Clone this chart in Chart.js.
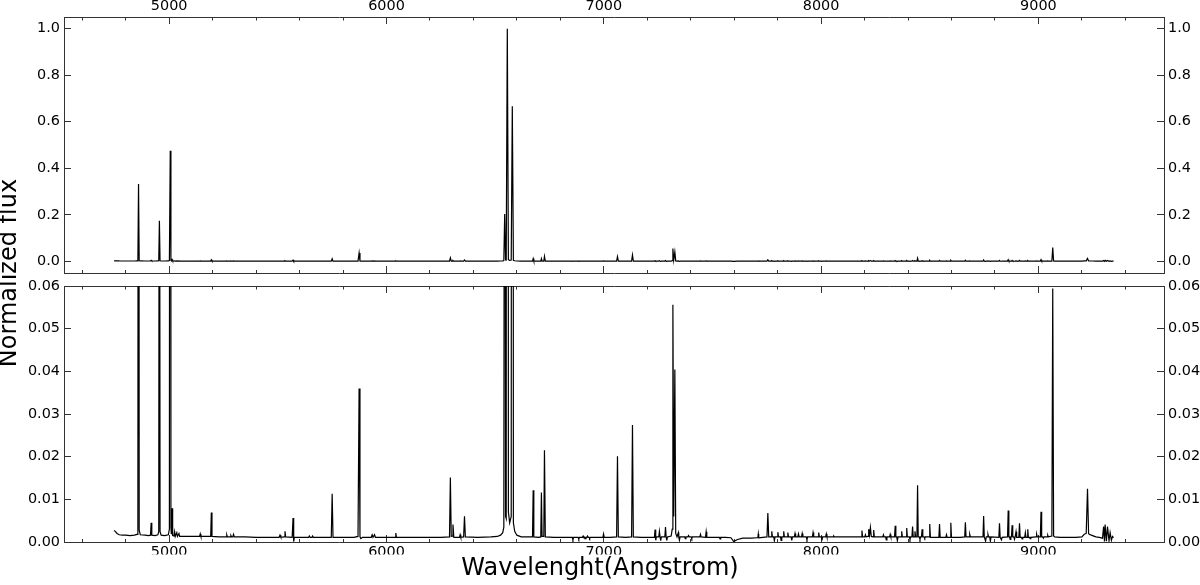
<!DOCTYPE html>
<html>
<head>
<meta charset="utf-8">
<script src="https://cdn.jsdelivr.net/npm/chart.js@4/dist/chart.umd.min.js"></script>
<style>
html,body{margin:0;padding:0;background:#ffffff;}
#wrap{position:relative;width:1200px;height:585px;overflow:hidden;background:#ffffff;}
#c2{position:absolute;left:0;top:0;}
#c1{position:absolute;left:0;top:0;}
</style>
</head>
<body>
<div id="wrap">
<canvas id="c2" width="1200" height="585"></canvas>
<canvas id="c1" width="1200" height="546"></canvas>
</div>
<script>
// ---------------- data ----------------
// segment 4746-5663 A
const wlA = [4746,4752,4760,4770,4785,4800,4820,4840,4852,4856,
 4859,4862,4867,4890,4905,4914,4917,4920,4935,4948,
 4952,4955,4958,4963,4980,4996,5001,5005,5008,5010,
 5013,5016,5022,5025,5028,5035,5038,5045,5048,5080,
 5110,5140,5143,5146,5175,5191,5194,5197,5230,5262,
 5265,5268,5281,5284,5287,5293,5296,5300,5350,5400,
 5450,5506,5510,5514,5530,5533,5536,5566,5570,5573,
 5576,5600,5642,5645,5649,5657,5660,5663];
const fluxA = [.0027,.0025,.0020,.0017,.0016,.0016,.0015,.0016,.0018,.0026,
 .332,.0028,.0017,.0016,.0015,.0016,.0045,.0016,.0015,.0017,
 .0024,.174,.0024,.0016,.0015,.0017,.0030,.475,.0035,.0018,
 .0079,.0015,.0014,.0024,.0013,.0022,.0013,.0020,.0013,.0013,
 .0013,.0013,.0019,.0013,.0013,.0013,.0069,.0013,.0012,.0012,
 .0017,.0012,.0012,.0015,.0012,.0012,.0018,.0012,.0012,.0011,
 .0011,.0011,.0016,.0011,.0012,.0025,.0012,.0011,.0056,.0001,
 .0011,.0011,.0011,.0014,.0011,.0011,.0014,.0011];
// segment 5700-7210 A
const wlB = [5700,5746,5750,5754,5800,5850,5869,5874,5878,5882,
 5890,5930,5934,5938,5945,5949,5990,6040,6043,6046,
 6100,6180,6250,6290,6294,6298,6303,6306,6310,6336,
 6339,6342,6355,6359,6363,6420,6480,6510,6525,6535,
 6540,6544,6548,6551,6556,6561,6567,6574,6579,6584,
 6590,6600,6620,6650,6672,6675,6678,6700,6710,6713,
 6716,6724,6727,6731,6770,6820,6855,6858,6861,6882,
 6885,6888,6902,6905,6908,6912,6915,6918,6922,6925,
 6928,6932,6935,6938,6960,6996,6999,7002,7030,7059,
 7063,7067,7100,7128,7132,7136,7170,7210];
const fluxB = [.0011,.0011,.0113,.0011,.0011,.0011,.0013,.0360,.0012,.0008,
 .0011,.0011,.0017,.0011,.0017,.0011,.0011,.0011,.0021,.0011,
 .0011,.0011,.0011,.0012,.0151,.0013,.0014,.0041,.0011,.0011,
 .0017,.0011,.0012,.0060,.0012,.0011,.0012,.0013,.0016,.0022,
 .0035,.203,.0060,.0055,1.000,.0070,.0045,.0060,.666,.0045,
 .0025,.0016,.0012,.0012,.0012,.0121,.0012,.0011,.0012,.0116,
 .0013,.0013,.0215,.0012,.0011,.0011,.0011,.0005,.0011,.0011,
 .0007,.0011,.0011,.0014,.0011,.0011,.0008,.0011,.0011,.0014,
 .0011,.0011,.0008,.0011,.0011,.0011,.0019,.0011,.0011,.0012,
 .0201,.0012,.0011,.0012,.0274,.0012,.0011,.0011];
// segment 7228-8119 A
const wlC = [7228,7233,7236,7238,7240,7242,7253,7256,7259,7262,
 7265,7281,7284,7287,7290,7293,7310,7315,7318,7322,
 7327,7331,7337,7340,7343,7345,7348,7351,7372,7375,
 7378,7387,7390,7393,7402,7405,7408,7442,7445,7448,
 7468,7471,7474,7500,7532,7535,7538,7560,7585,7598,
 7615,7640,7680,7705,7709,7711,7713,7751,7755,7759,
 7770,7773,7776,7782,7785,7788,7798,7801,7804,7813,
 7816,7819,7825,7828,7831,7844,7847,7850,7862,7865,
 7868,7877,7880,7883,7893,7896,7899,7910,7913,7916,
 7932,7935,7938,7960,7963,7966,7986,7989,7992,8001,
 8004,8007,8021,8024,8027,8055,8058,8061,8119];
const fluxC = [.0011,.0011,.0029,.0011,.0004,.0012,.0012,.0025,.0012,.0003,
 .0012,.0012,.0035,.0012,.0004,.0012,.0014,.0030,.0556,.0060,
 .0404,.0020,.0012,.0012,.0022,.0012,.0004,.0012,.0012,.0008,
 .0012,.0012,.0015,.0012,.0012,.0008,.0012,.0012,.0018,.0012,
 .0011,.0024,.0011,.0011,.0011,.0007,.0011,.0011,.0010,.0001,
 .0006,.0009,.0009,.0010,.0010,.0019,.0010,.0012,.0068,.0012,
 .0012,.0025,.0012,.0012,.0003,.0012,.0012,.0023,.0012,.0012,
 .0004,.0012,.0012,.0025,.0012,.0012,.0022,.0012,.0012,.0004,
 .0012,.0012,.0020,.0012,.0012,.0019,.0012,.0012,.0020,.0012,
 .0012,.0005,.0012,.0012,.0022,.0012,.0012,.0022,.0012,.0012,
 .0004,.0012,.0012,.0019,.0012,.0012,.0014,.0012,.0012];
// segment 8160-9346 A
const wlD = [8160,8185,8188,8191,8201,8204,8207,8216,8219,8223,
 8227,8231,8239,8242,8245,8270,8284,8287,8290,8297,
 8300,8303,8315,8318,8321,8338,8341,8344,8348,8351,
 8354,8368,8371,8374,8391,8394,8397,8406,8409,8412,
 8418,8421,8424,8429,8432,8435,8441,8444,8447,8452,
 8455,8458,8462,8465,8468,8474,8477,8480,8497,8500,
 8503,8542,8545,8548,8574,8577,8580,8594,8597,8600,
 8640,8661,8664,8667,8681,8684,8687,8720,8745,8748,
 8751,8754,8757,8760,8765,8768,8771,8776,8779,8782,
 8818,8821,8824,8827,8830,8833,8858,8861,8864,8867,
 8870,8873,8876,8879,8882,8887,8890,8893,8895,8897,
 8900,8910,8913,8916,8922,8925,8928,8937,8940,8943,
 8948,8951,8954,8959,8962,8965,8989,8992,8995,9009,
 9012,9015,9020,9023,9026,9040,9043,9046,9062,9066,
 9070,9075,9100,9127,9173,9200,9211,9220,9226,9231,
 9234,9249,9265,9280,9295,9300,9304,9307,9313,9318,
 9325,9330,9336,9341,9346];
const fluxD = [.0012,.0012,.0027,.0012,.0012,.0017,.0012,.0013,.0030,.0016,
 .0034,.0013,.0012,.0028,.0012,.0012,.0012,.0017,.0012,.0012,
 .0005,.0012,.0012,.0018,.0012,.0012,.0038,.0012,.0012,.0003,
 .0012,.0012,.0025,.0012,.0012,.0033,.0012,.0012,.0006,.0012,
 .0012,.0036,.0012,.0012,.0025,.0012,.0012,.0133,.0012,.0012,
 .0006,.0012,.0012,.0030,.0012,.0012,.0009,.0012,.0012,.0042,
 .0011,.0011,.0042,.0011,.0011,.0017,.0011,.0011,.0045,.0011,
 .0011,.0012,.0046,.0012,.0012,.0018,.0012,.0012,.0012,.0061,
 .0012,.0012,.0002,.0012,.0012,.0018,.0012,.0012,.0002,.0012,
 .0011,.0044,.0011,.0011,.0005,.0011,.0012,.0074,.0012,.0012,
 .0006,.0012,.0012,.0039,.0012,.0012,.0006,.0012,.0012,.0024,
 .0011,.0011,.0044,.0011,.0011,.0007,.0011,.0011,.0022,.0011,
 .0011,.0030,.0011,.0011,.0008,.0011,.0012,.0018,.0012,.0012,
 .0071,.0012,.0012,.0009,.0012,.0012,.0016,.0012,.0014,.0594,
 .0014,.0012,.0011,.0011,.0011,.0012,.0018,.0020,.0125,.0020,
 .0018,.0015,.0012,.0011,.0009,.0036,.0001,.0041,.0002,.0036,
 .0003,.0022,.0004,.0013,.0010];

const wavelength = [...wlA, ...wlB, ...wlC, ...wlD];
const flux = [...fluxA, ...fluxB, ...fluxC, ...fluxD];

// ---------------- axes: ticks and labels ----------------
const X_MIN = 4516, X_MAX = 9578;
const xTickValues = [4600,4800,5000,5200,5400,5600,5800,6000,6200,6400,6600,6800,7000,
                     7200,7400,7600,7800,8000,8200,8400,8600,8800,9000,9200,9400];
const xTickLabels = ['','','5000','','','','','6000','','','','','7000',
                     '','','','','8000','','','','','9000','',''];
const Y_TOP_MIN = -0.05, Y_TOP_MAX = 1.05;
const yTopTicks  = [0, 0.2, 0.4, 0.6, 0.8, 1.0];
const yTopLabels = ['0.0','0.2','0.4','0.6','0.8','1.0'];
const Y_BOT_MIN = 0, Y_BOT_MAX = 0.06;
const yBotTicks  = [0, 0.01, 0.02, 0.03, 0.04, 0.05, 0.06];
const yBotLabels = ['0.00','0.01','0.02','0.03','0.04','0.05','0.06'];

const X_TITLE = 'Wavelenght(Angstrom)';
const Y_TITLE = 'Normalized flux';

// ---------------- styling ----------------
const FONT = "'DejaVu Sans'";
const TICK_FONT = {family: FONT, size: 14.4, lineHeight: 1.2, weight: 'normal'};
const SPINE = '#333333';
const MAJOR_LEN = 7;

Chart.defaults.font.family = FONT;
Chart.defaults.color = '#000000';

const points = wavelength.map((w, i) => ({x: w, y: flux[i]}));

function zeroPad(s) { s.paddingLeft = 0; s.paddingRight = 0; s.paddingTop = 0; s.paddingBottom = 0; }

function xAxis(pos, showLabels, size) {
  return {
    type: 'linear', position: pos, min: X_MIN, max: X_MAX,
    afterBuildTicks: s => { s.ticks = xTickValues.map(v => ({value: v})); },
    ticks: {
      display: showLabels, autoSkip: false, maxRotation: 0, minRotation: 0,
      padding: 8.7, font: TICK_FONT, color: '#000000',
      callback: (v, i) => xTickLabels[i]
    },
    grid: {
      display: true, drawOnChartArea: false, drawTicks: true,
      tickLength: -MAJOR_LEN, tickColor: SPINE, tickWidth: 1,
      tickBorderDash: c => (xTickLabels[c.index] === '' ? [4, 100] : []),
      tickBorderDashOffset: c => (xTickLabels[c.index] === '' && pos === 'top' ? 100.5 : 0)
    },
    border: {display: true, color: SPINE, width: 1},
    afterFit: s => { s.height = size; zeroPad(s); }
  };
}

function yAxis(pos, min, max, tv, tl, size) {
  return {
    type: 'linear', position: pos, min: min, max: max,
    afterBuildTicks: s => { s.ticks = tv.map(v => ({value: v})); },
    ticks: {
      display: true, autoSkip: false, padding: 11, font: TICK_FONT, color: '#000000',
      callback: (v, i) => tl[i]
    },
    grid: {
      display: true, drawOnChartArea: false, drawTicks: true,
      tickLength: -MAJOR_LEN, tickColor: SPINE, tickWidth: 1
    },
    border: {display: true, color: SPINE, width: 1},
    afterFit: s => { s.width = size; zeroPad(s); }
  };
}

function dataset(xid, yid) {
  return {
    data: points, xAxisID: xid, yAxisID: yid,
    borderColor: '#000000', borderWidth: 1.2, pointRadius: 0, pointHoverRadius: 0,
    tension: 0, fill: false, clip: 0
  };
}

const Y_TITLE_FONT = {family: FONT, size: 24, lineHeight: 0.85, weight: 'normal'};
const X_TITLE_FONT = {family: FONT, size: 24, lineHeight: 1.2, weight: 'normal'};

// ---------------- top panel (full scale) ----------------
new Chart(document.getElementById('c1'), {
  type: 'line',
  data: {datasets: [dataset('xT', 'yL')]},
  options: {
    responsive: false, animation: false, events: [],
    layout: {padding: 0},
    plugins: {
      legend: {display: false}, tooltip: {enabled: false},
      title: {display: true, position: 'left', text: Y_TITLE, font: Y_TITLE_FONT,
              color: '#000000', padding: 0}
    },
    scales: {
      xT: xAxis('top', true, 17),
      xB: xAxis('bottom', false, 273),
      yL: yAxis('left', Y_TOP_MIN, Y_TOP_MAX, yTopTicks, yTopLabels, 64 - 20.4),
      yR: yAxis('right', Y_TOP_MIN, Y_TOP_MAX, yTopTicks, yTopLabels, 36)
    }
  }
});

// ---------------- bottom panel (zoom on the faint lines) ----------------
new Chart(document.getElementById('c2'), {
  type: 'line',
  data: {datasets: [dataset('xB', 'yL')]},
  options: {
    responsive: false, animation: false, events: [],
    layout: {padding: 0},
    plugins: {
      legend: {display: false}, tooltip: {enabled: false},
      title: {display: true, position: 'bottom', text: X_TITLE, font: X_TITLE_FONT,
              color: '#000000', padding: {top: 0, bottom: 1.6}}
    },
    scales: {
      xT: xAxis('top', false, 286),
      xB: xAxis('bottom', true, 12.6),
      yL: yAxis('left', Y_BOT_MIN, Y_BOT_MAX, yBotTicks, yBotLabels, 64),
      yR: yAxis('right', Y_BOT_MIN, Y_BOT_MAX, yBotTicks, yBotLabels, 36)
    }
  }
});
</script>
</body>
</html>
